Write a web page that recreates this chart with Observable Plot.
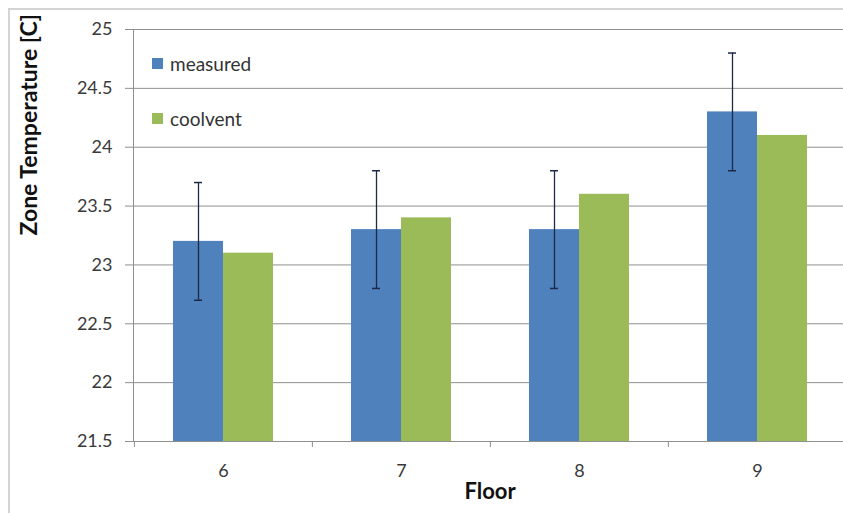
<!DOCTYPE html>
<html>
<head>
<meta charset="utf-8">
<script src="https://cdn.jsdelivr.net/npm/d3@7"></script>
<script src="https://cdn.jsdelivr.net/npm/@observablehq/plot@0.6"></script>
<style>
  html, body { margin: 0; padding: 0; background: #fff; }
  #wrap { position: relative; width: 843px; height: 513px; overflow: hidden; font-family: Lato, "Open Sans", sans-serif; }
  #border { position: absolute; left: 8px; top: 8px; width: 900px; height: 600px; border-left: 2px solid #d4d4d4; border-top: 2px solid #d4d4d4; box-sizing: border-box; }
  #chart { position: absolute; left: 0; top: 0; }
  .leg { position: absolute; left: 152px; display: flex; align-items: center; font-size: 19px; color: #333; }
  .sw { width: 11px; height: 11px; margin-right: 7px; }
</style>
</head>
<body>
<div id="wrap">
  <div id="border"></div>
  <div id="chart"></div>
  <div id="legend"></div>
</div>
<script>
const floors = [6, 7, 8, 9];
const measured = [23.2, 23.3, 23.3, 24.3];
const coolvent = [23.1, 23.4, 23.6, 24.1];
const errLow = [22.7, 22.8, 22.8, 23.8];
const errHigh = [23.7, 23.8, 23.8, 24.8];
const yTicks = [21.5, 22, 22.5, 23, 23.5, 24, 24.5, 25];
const seriesNames = ["measured", "coolvent"];
const seriesColors = ["#4F81BD", "#9BBB59"];
const yTitle = "Zone Temperature [C]";
const xTitle = "Floor";

const rows = floors.map((f, i) => ({floor: f, measured: measured[i], coolvent: coolvent[i], lo: errLow[i], hi: errHigh[i]}));
const base = yTicks[0];
const gridColor = "#8f8f8f";
const errColor = "#1c2a48";

const plot = Plot.plot({
  width: 843,
  height: 513,
  marginLeft: 133,
  marginRight: -3,
  marginTop: 29,
  marginBottom: 72,
  style: {fontFamily: "Lato, 'Open Sans', sans-serif", fontSize: "18px", background: "transparent", overflow: "visible"},
  x: {type: "band", domain: floors, paddingInner: 0.44, paddingOuter: 0.22, axis: null},
  y: {domain: [yTicks[0], yTicks[yTicks.length - 1]], axis: null},
  marks: [
    Plot.ruleY(yTicks, {stroke: gridColor, strokeWidth: 1}),
    Plot.frame({anchor: "left", stroke: gridColor, strokeWidth: 1}),
    Plot.ruleX(rows, {x: "floor", dx: -89.1, y1: base, y2: base, insetBottom: -6, stroke: gridColor}),
    Plot.axisY({ticks: yTicks, tickSize: 8, tickPadding: 13, tickFormat: d => String(d), stroke: gridColor, fill: "#3a3a3a", fontSize: 18, label: null}),
    Plot.axisX({tickSize: 0, tickPadding: 23, fill: "#3a3a3a", fontSize: 18, label: null}),
    Plot.barY(rows, {x: "floor", y1: base, y2: "measured", fill: seriesColors[0], insetRight: 50}),
    Plot.barY(rows, {x: "floor", y1: base, y2: "coolvent", fill: seriesColors[1], insetLeft: 50}),
    Plot.ruleX(rows, {x: "floor", y1: "lo", y2: "hi", dx: -25, stroke: errColor, strokeWidth: 1.3}),
    Plot.tickY(rows, {x: "floor", y: "hi", insetLeft: 21, insetRight: 71, stroke: errColor, strokeWidth: 1.5}),
    Plot.tickY(rows, {x: "floor", y: "lo", insetLeft: 21, insetRight: 71, stroke: errColor, strokeWidth: 1.5}),
    Plot.text([yTitle], {frameAnchor: "left", dx: -104, rotate: -90, fontSize: 23, fontWeight: "bold", fill: "#111"}),
    Plot.text([xTitle], {frameAnchor: "bottom", dy: 57, fontSize: 22, fontWeight: "bold", fill: "#111"})
  ]
});
document.getElementById("chart").appendChild(plot);

const legend = document.getElementById("legend");
const legendTops = [52, 107];
seriesNames.forEach((name, i) => {
  const item = document.createElement("div");
  item.className = "leg";
  item.style.top = legendTops[i] + "px";
  item.innerHTML = `<span class="sw" style="background:${seriesColors[i]}"></span><span>${name}</span>`;
  legend.appendChild(item);
});
</script>
</body>
</html>
